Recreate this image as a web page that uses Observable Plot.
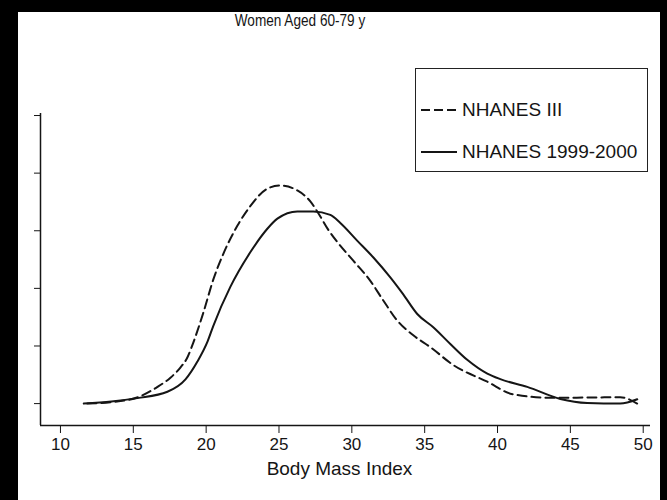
<!DOCTYPE html>
<html><head><meta charset="utf-8">
<script src="https://cdn.jsdelivr.net/npm/d3@7"></script>
<script src="https://cdn.jsdelivr.net/npm/@observablehq/plot@0.6"></script>
<style>
html,body{margin:0;padding:0;background:#000;width:667px;height:500px;overflow:hidden}
#panel{position:absolute;left:18px;top:12px;width:642px;height:488px;background:#fff}
#chart{position:absolute;left:0;top:0;width:667px;height:500px;font-family:"Liberation Sans",Arial,sans-serif;color:#151515}
#title{position:absolute;left:0;top:7px;width:600px;height:28px;text-align:center;font-size:17px;line-height:28px;transform:scaleX(0.8)}
#chart > svg{position:absolute;left:0;top:40px;background:transparent}
#legend{position:absolute;left:415px;top:68px;width:233px;height:104px;border:1.3px solid #222;box-sizing:border-box;font-size:19px}
.row{position:absolute;left:4px;height:22px;line-height:22px;display:flex;align-items:center;white-space:nowrap}
.row svg{margin-right:4px}
</style></head>
<body>
<div id="panel"></div>
<div id="chart">
  <div id="title">Women Aged 60-79 y</div>
  <div id="legend">
    <div class="row" style="top:30px"><svg width="38" height="6"><line x1="1" y1="3" x2="37" y2="3" stroke="#151515" stroke-width="2" stroke-dasharray="9,4"/></svg><span>NHANES III</span></div>
    <div class="row" style="top:72px"><svg width="38" height="6"><line x1="1" y1="3" x2="37" y2="3" stroke="#151515" stroke-width="2.2"/></svg><span>NHANES 1999-2000</span></div>
  </div>
</div>
<script>
// Body Mass Index (x) and percent of women (y)
const bmiIII = [11.85, 13.5, 15.35, 16.66, 17.55, 18.23, 18.71, 19.12, 19.81, 20.5, 21.18, 22.14, 23.04, 24.2, 25.09, 26.26, 27.15, 27.7, 28.4, 29.0, 30.1, 31.27, 32.16, 33.12, 34.22, 35.39, 36.96, 39.3, 41.08, 43.83, 46.2, 48.42, 49.59];
const pctIII = [0, 0.05, 0.23, 0.58, 0.9, 1.25, 1.6, 2.12, 3.16, 4.32, 5.2, 6.17, 6.86, 7.46, 7.57, 7.4, 7.02, 6.61, 6.02, 5.61, 4.96, 4.26, 3.58, 2.88, 2.37, 1.96, 1.34, 0.76, 0.32, 0.2, 0.21, 0.22, 0.0];
const bmi1999 = [11.6, 13.5, 15.28, 17.34, 18.58, 19.4, 20.1, 20.5, 21.66, 23.04, 24.2, 24.89, 26.26, 27.36, 28.52, 29.21, 30.38, 31.48, 32.64, 33.53, 34.49, 35.59, 36.76, 37.92, 39.3, 40.19, 42.04, 44.31, 46.16, 48.42, 49.59];
const pct1999 = [0, 0.07, 0.19, 0.41, 0.84, 1.46, 2.16, 2.71, 4.05, 5.26, 6.07, 6.42, 6.67, 6.67, 6.55, 6.27, 5.65, 5.07, 4.38, 3.79, 3.11, 2.65, 2.07, 1.52, 1.04, 0.85, 0.58, 0.16, 0.02, 0.0, 0.15];
const xTicks = [10, 15, 20, 25, 30, 35, 40, 45, 50];
const yTicks = [0, 2, 4, 6, 8, 10];
const xLabel = "Body Mass Index";

const dIII = bmiIII.map((b, i) => ({bmi: b, pct: pctIII[i]}));
const d1999 = bmi1999.map((b, i) => ({bmi: b, pct: pct1999[i]}));
const xMin = 8.63, xMax = 50.5, yMin = -0.76, yMax = 10.07;
const ink = "#151515";

const chart = Plot.plot({
  width: 667, height: 460,
  marginLeft: 40, marginRight: 17, marginTop: 73, marginBottom: 75,
  style: {fontFamily: '"Liberation Sans",Arial,sans-serif', fontSize: "17px", color: ink, background: "transparent"},
  x: {domain: [xMin, xMax]},
  y: {domain: [yMin, yMax]},
  marks: [
    Plot.ruleX([xMin], {stroke: ink, strokeWidth: 1.5}),
    Plot.ruleY([yMin], {stroke: ink, strokeWidth: 1.5}),
    Plot.axisX({ticks: xTicks, tickSize: 8, tickPadding: 4, label: null, stroke: ink, fontSize: 17}),
    Plot.axisY({ticks: yTicks, tickSize: 6, tickFormat: () => "", label: null, stroke: ink}),
    Plot.line(dIII, {x: "bmi", y: "pct", stroke: ink, strokeWidth: 2, strokeDasharray: "9,5", curve: "monotone-x"}),
    Plot.line(d1999, {x: "bmi", y: "pct", stroke: ink, strokeWidth: 2, curve: "monotone-x"}),
    Plot.text([xLabel], {text: d => d, frameAnchor: "bottom", dy: 49, dx: -6, fontSize: 19, fill: ink})
  ]
});
document.getElementById("chart").appendChild(chart);
</script>
</body></html>
